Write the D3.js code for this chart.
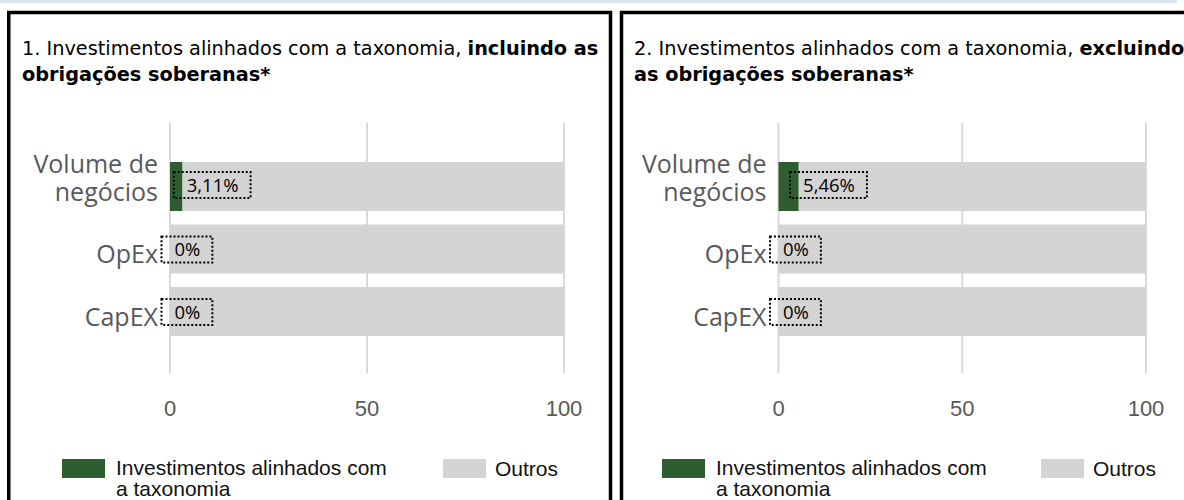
<!DOCTYPE html>
<html>
<head>
  <meta charset="utf-8">
  <title>Investimentos alinhados com a taxonomia</title>
  <style>
    body { margin: 0; background: #fff; }
    svg { display: block; }
    .title { font-family: "DejaVu Sans", Verdana, sans-serif; font-size: 19.3px; fill: #000; }
    .cat { font-family: "Open Sans", sans-serif; font-size: 25px; fill: #595959; }
    .tick { font-family: "Liberation Sans", Arial, sans-serif; font-size: 22px; fill: #595959; }
    .val { font-family: "Open Sans", sans-serif; font-size: 18.5px; fill: #000; }
    .legend { font-family: "Liberation Sans", Arial, sans-serif; font-size: 21px; fill: #111; }
  </style>
  <script src="https://d3js.org/d3.v7.min.js"></script>
</head>
<body>
<div id="chart"></div>
<script>
  // data
  const categories = ['Volume de negócios', 'OpEx', 'CapEX'];
  const categoryLines = [['Volume de', 'negócios'], ['OpEx'], ['CapEX']];
  const alignedIncluding = [3.11, 0, 0];
  const alignedExcluding = [5.46, 0, 0];
  const xTicks = [0, 50, 100];
  const legendAligned = ['Investimentos alinhados com', 'a taxonomia'];
  const legendOther = 'Outros';
  const titleIncluding = [
    [['1. Investimentos alinhados com a taxonomia, ', false], ['incluindo as', true]],
    [['obrigações soberanas*', true]]
  ];
  const titleExcluding = [
    [['2. Investimentos alinhados com a taxonomia, ', false], ['excluindo', true]],
    [['as obrigações soberanas*', true]]
  ];

  const green = '#2e5e2f';
  const grey = '#d4d4d4';
  const fmt = v => (v === 0 ? '0' : d3.format('.2f')(v).replace('.', ',')) + '%';

  const svg = d3.select('#chart')
    .append('svg')
      .attr('width', 1184)
      .attr('height', 500);

  // thin light-blue strip along the top
  svg.append('rect')
    .attr('x', 0).attr('y', 0)
    .attr('width', 1177).attr('height', 3)
    .attr('fill', '#dbe4f0');

  const panels = [
    { left: 8.75, width: 601.75, titleX: 22, x0: 170, x1: 564, values: alignedIncluding, title: titleIncluding,
      legendX: 62, otherX: 443 },
    { left: 621.5, width: 600, titleX: 634, x0: 778.5, x1: 1146, values: alignedExcluding, title: titleExcluding,
      legendX: 662, otherX: 1041 }
  ];

  panels.forEach(drawPanel);

  function drawPanel(p) {
    const g = svg.append('g');

    g.append('rect')
      .attr('x', p.left).attr('y', 12.5)
      .attr('width', p.width).attr('height', 520)
      .attr('fill', 'none')
      .attr('stroke', '#000')
      .attr('stroke-width', 3.5);

    // title, two lines, partly bold
    const title = g.append('text').attr('class', 'title');
    p.title.forEach((line, i) => {
      line.forEach((part, j) => {
        const ts = title.append('tspan')
          .attr('font-weight', part[1] ? 'bold' : 'normal')
          .text(part[0]);
        if (j === 0) ts.attr('x', p.titleX).attr('y', 55 + i * 26);
      });
    });

    const x = d3.scaleLinear()
      .domain([0, 100])
      .range([p.x0, p.x1]);

    const y = d3.scaleBand()
      .domain(categories)
      .range([155.25, 342.75])
      .paddingInner(0.216)
      .paddingOuter(0.108);

    // vertical gridlines
    g.selectAll('line.grid')
      .data(xTicks)
      .join('line')
        .attr('class', 'grid')
        .attr('x1', d => x(d)).attr('x2', d => x(d))
        .attr('y1', 123).attr('y2', 373)
        .attr('stroke', '#d9d9d9')
        .attr('stroke-width', 2);

    g.selectAll('text.tick')
      .data(xTicks)
      .join('text')
        .attr('class', 'tick')
        .attr('x', d => x(d))
        .attr('y', 416)
        .attr('text-anchor', 'middle')
        .text(d => d);

    const rows = categories.map((c, i) => ({ c, v: p.values[i], lines: categoryLines[i] }));

    // "Outros" part of each bar
    g.selectAll('rect.other')
      .data(rows)
      .join('rect')
        .attr('class', 'other')
        .attr('x', d => x(d.v))
        .attr('y', d => y(d.c))
        .attr('width', d => x(100) - x(d.v))
        .attr('height', y.bandwidth())
        .attr('fill', grey);

    g.selectAll('rect.aligned')
      .data(rows)
      .join('rect')
        .attr('class', 'aligned')
        .attr('x', x(0))
        .attr('y', d => y(d.c))
        .attr('width', d => x(d.v) - x(0))
        .attr('height', y.bandwidth())
        .attr('fill', green);

    // category labels
    rows.forEach(d => {
      const mid = y(d.c) + y.bandwidth() / 2;
      const first = d.lines.length > 1 ? mid - 14 : mid + 14;
      d.lines.forEach((line, i) => {
        g.append('text')
          .attr('class', 'cat')
          .attr('text-anchor', 'end')
          .attr('x', x(0) - 12)
          .attr('y', first + i * 28)
          .text(line);
      });
    });

    // value labels in dotted boxes
    rows.forEach(d => {
      const mid = y(d.c) + y.bandwidth() / 2;
      const boxY = d.lines.length > 1 ? mid - 14.5 : mid - 12.5;
      const t = g.append('text')
        .attr('class', 'val')
        .attr('x', x(d.v) - 8.5 + 13)
        .attr('y', boxY + 19.5)
        .text(fmt(d.v));
      const w = t.node().getComputedTextLength();
      g.insert('rect', () => t.node())
        .attr('x', x(d.v) - 8.5)
        .attr('y', boxY)
        .attr('width', w + 25)
        .attr('height', 26)
        .attr('fill', 'none')
        .attr('stroke', '#000')
        .attr('stroke-width', 2)
        .attr('stroke-dasharray', '2,2');
    });

    // legend
    g.append('rect')
      .attr('x', p.legendX).attr('y', 459)
      .attr('width', 43).attr('height', 19)
      .attr('fill', green);
    const lt = g.append('text').attr('class', 'legend');
    legendAligned.forEach((line, i) => {
      lt.append('tspan')
        .attr('x', p.legendX + 54)
        .attr('y', 475 + i * 21)
        .text(line);
    });
    g.append('rect')
      .attr('x', p.otherX).attr('y', 459)
      .attr('width', 43).attr('height', 19)
      .attr('fill', grey);
    g.append('text')
      .attr('class', 'legend')
      .attr('x', p.otherX + 52)
      .attr('y', 476)
      .text(legendOther);
  }
</script>
</body>
</html>
